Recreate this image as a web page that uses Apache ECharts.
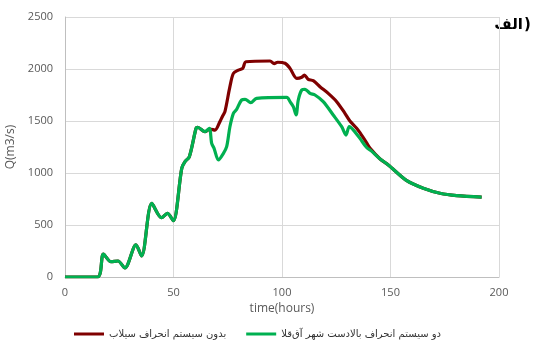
<!DOCTYPE html>
<html><head><meta charset="utf-8">
<script src="https://cdn.jsdelivr.net/npm/echarts@6/dist/echarts.min.js"></script>
<style>html,body{margin:0;padding:0;background:#fff}#c{width:535px;height:347px}</style>
</head><body><div id="c"></div>
<script>
var xTicks = [0, 50, 100, 150, 200];
var yTicks = [0, 500, 1000, 1500, 2000, 2500];
var seriesNames = ['بدون سیستم انحراف سیلاب', 'دو سیستم انحراف بالادست شهر آق‌قلا'];
var common = [[0,0],[15,0],[17.7,221],[21.2,147],[24.4,154],[27.6,87],[32.7,308],[35.3,202],[40,708],[44.5,570],[47.2,612],[49.9,541],[53.8,1045],[55.3,1109],[57.3,1157],[60.4,1430],[61.1,1440],[64.5,1397]];
var redMid = [[66.8,1423],[69.1,1413],[71.4,1494],[72.7,1551],[73.7,1590],[76,1830],[77.6,1958],[79.9,1990],[81.9,2006],[83.4,2070],[94.5,2077],[96.4,2051],[98,2065],[101.4,2055],[103.7,2006],[106.8,1910],[109.1,1920],[110.3,1942],[112.1,1901],[114.4,1888],[117.5,1830],[121.3,1766],[125.2,1686],[129,1574],[131.3,1500],[134.4,1430],[136,1385],[139,1290],[140.6,1237]];
var greenMid = [[66.5,1430],[67.6,1285],[68.7,1237],[70.7,1125],[73,1189],[74.5,1253],[76,1445],[77.6,1574],[79.1,1612],[81.4,1702],[83,1708],[85.6,1676],[88.3,1718],[102.2,1728],[103.7,1686],[105.2,1638],[106.5,1558],[107.5,1702],[109.1,1798],[110.6,1805],[112.9,1766],[115.2,1750],[119,1686],[123.6,1558],[127.5,1445],[129.5,1365],[131,1445],[132.9,1413],[135.9,1333],[139,1245],[141,1215]];
var tail = [[145.2,1135],[149,1077],[157.5,926],[165.1,853],[172.8,805],[180.5,782],[192,768]];
var redData = common.concat(redMid, tail);
var greenData = common.concat(greenMid, tail);
var titleWord = 'الف';
var titleParen = ')';

var chart = echarts.init(document.getElementById('c'));
chart.setOption({
  animation: false,
  graphic: [
    {type: 'text', x: 524, y: 25, style: {text: titleParen, x: 0, y: 0, align: 'left', verticalAlign: 'middle', font: 'bold 15px "DejaVu Sans"', fill: '#000'}},
    {type: 'text', x: 523, y: 25, style: {text: titleWord, x: 0, y: 0, align: 'right', verticalAlign: 'middle', font: 'bold 15px "DejaVu Sans"', fill: '#000'}}
  ],
  grid: {left: 65, right: 36, top: 17, bottom: 70, outerBoundsMode: 'none'},
  legend: {
    bottom: 3, left: 69, itemGap: 20, itemWidth: 30, itemHeight: 3, icon: 'rect',
    textStyle: {fontFamily: 'DejaVu Sans', fontSize: 10, color: '#333'},
    data: seriesNames
  },
  xAxis: {
    type: 'value', min: xTicks[0], max: xTicks[xTicks.length-1], interval: 50,
    name: 'time(hours)', nameLocation: 'middle', nameGap: 22,
    nameTextStyle: {fontFamily: 'Open Sans', fontSize: 12, color: '#595959'},
    axisLine: {lineStyle: {color: '#bfbfbf'}}, axisTick: {show: false},
    axisLabel: {fontFamily: 'Open Sans', fontSize: 11, color: '#595959', margin: 10, formatter: function(v){return String(v);}},
    splitLine: {show: true, lineStyle: {color: '#d9d9d9'}}
  },
  yAxis: {
    type: 'value', min: yTicks[0], max: yTicks[yTicks.length-1], interval: 500,
    name: 'Q(m3/s)', nameLocation: 'middle', nameGap: 42, nameRotate: 90,
    nameTextStyle: {fontFamily: 'Open Sans', fontSize: 12, color: '#595959'},
    axisLine: {show: true, lineStyle: {color: '#bfbfbf'}}, axisTick: {show: false},
    axisLabel: {fontFamily: 'Open Sans', fontSize: 11, color: '#595959', margin: 12, formatter: function(v){return String(v);}},
    splitLine: {show: true, lineStyle: {color: '#d9d9d9'}}
  },
  series: [
    {name: seriesNames[0], type: 'line', data: redData, showSymbol: false, smooth: 0.3, lineStyle: {width: 3.2, color: '#7f0000'}, itemStyle: {color: '#7f0000'}},
    {name: seriesNames[1], type: 'line', data: greenData, showSymbol: false, smooth: 0.3, lineStyle: {width: 3.2, color: '#00b050'}, itemStyle: {color: '#00b050'}}
  ]
});
</script></body></html>
